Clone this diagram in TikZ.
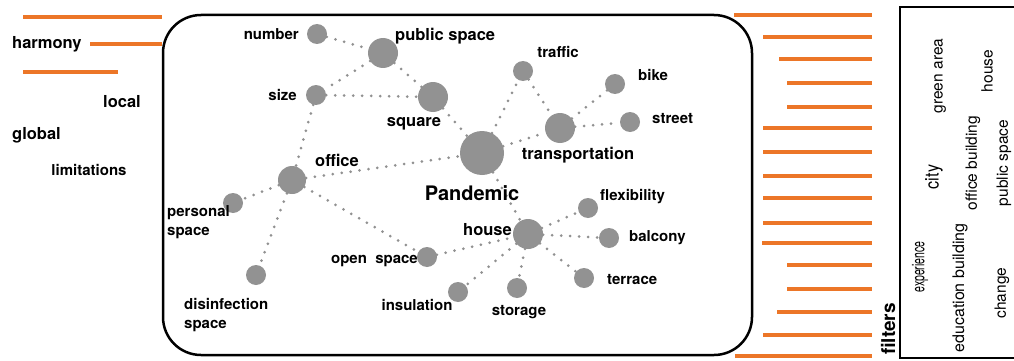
\documentclass[tikz,border=0pt]{standalone}
\usepackage{fontspec}
\setmainfont{TeX Gyre Heros}
\usepackage{graphicx}
\begin{document}
\definecolor{barorange}{RGB}{236,118,40}
\definecolor{nodegray}{RGB}{146,146,146}
\definecolor{dotgray}{RGB}{145,145,145}
\begin{tikzpicture}[x=1pt,y=-1pt,
  bar/.style={draw=barorange,line width=4.2pt},
  hub/.style={circle,fill=nodegray,inner sep=0pt,minimum size=#1},
  hub/.default=20pt,
  link/.style={draw=dotgray,line width=3pt,line cap=round,dash pattern=on 0pt off 9pt},
  lab/.style={font=\fontsize{15}{19}\selectfont\bfseries,inner sep=0pt},
  labm/.style={font=\fontsize{16.5}{19}\selectfont\bfseries,inner sep=0pt},
  labl/.style={font=\fontsize{20}{24}\selectfont\bfseries,inner sep=0pt},
  vword/.style={rotate=90,font=\fontsize{15.5}{18}\selectfont,inner sep=0pt}]
\useasboundingbox (0,0) rectangle (1014,361);

% left column: bars and words
\draw[bar] (23,17) -- (162,17);
\draw[bar] (90,44) -- (162,44);
\draw[bar] (23,72) -- (118,72);
\node[labm,anchor=west] (w-harmony) at (12,44) {harmony};
\node[labm] (w-local) at (122,102) {local};
\node[labm,anchor=west] (w-global) at (12,135) {global};
\node[lab] (w-limit) at (89,170) {limitations};

% frame around the network
\draw[line width=2.5pt,rounded corners=38pt] (163,15) rectangle (752,355);

% network nodes
\node[hub] (number) at (317,34) {};
\node[hub=30pt] (public) at (383,53) {};
\node[hub] (size) at (316,95) {};
\node[hub=30pt] (square) at (433,97) {};
\node[hub=44pt] (pandemic) at (482,153) {};
\node[hub=28pt] (office) at (292,180) {};
\node[hub] (personal) at (233,203) {};
\node[hub] (disinf) at (256,275) {};
\node[hub] (openspace) at (427,257) {};
\node[hub] (insulation) at (458,292) {};
\node[hub=30pt] (house) at (528,234) {};
\node[hub] (flex) at (588,208) {};
\node[hub] (balcony) at (609,238) {};
\node[hub] (terrace) at (584,278) {};
\node[hub] (storage) at (517,288) {};
\node[hub] (traffic) at (523,71) {};
\node[hub] (bike) at (615,84) {};
\node[hub] (street) at (630,122) {};
\node[hub=30pt] (transport) at (560,128) {};

% dotted links
\foreach \a/\b in {number/public, public/size, public/square, size/square,
  square/pandemic, size/office, office/pandemic, office/personal,
  office/disinf, office/openspace, openspace/house, pandemic/house,
  pandemic/transport, pandemic/traffic, traffic/transport,
  transport/bike, transport/street, house/flex, house/balcony,
  house/terrace, house/storage, house/insulation}
  \path[link] (\a) -- (\b);

% node labels
\node[lab,anchor=east] (l-number) at (299,34) {number};
\node[labm,anchor=west] (l-public) at (395,36) {public space};
\node[lab,anchor=east] (l-size) at (297,95) {size};
\node[labm] (l-square) at (414,124) {square};
\node[labl] (l-pandemic) at (472,193) {Pandemic};
\node[labm] (l-office) at (337,160) {office};
\node[lab,anchor=west,align=left] (l-personal) at (167,222) {personal\\space};
\node[lab,anchor=west,align=left] (l-disinf) at (184,315) {disinfection\\space};
\node[lab,anchor=east] (l-open) at (418,261) {open\ \ space};
\node[lab] (l-insulation) at (417,305) {insulation};
\node[labm,anchor=east] (l-house) at (512,230) {house};
\node[lab,anchor=west] (l-flex) at (600,197) {flexibility};
\node[lab,anchor=west] (l-balcony) at (629,238) {balcony};
\node[lab,anchor=west] (l-terrace) at (607,280) {terrace};
\node[lab] (l-storage) at (519,312) {storage};
\node[lab] (l-traffic) at (558,52) {traffic};
\node[lab,anchor=west] (l-bike) at (638,75) {bike};
\node[lab,anchor=west] (l-street) at (652,119) {street};
\node[labm] (l-transport) at (578,155) {transportation};

% filter bars
\foreach \xs/\yy in {734/15, 763/37, 779/59, 787/83, 787/107, 763/128,
  763/152, 763/176, 763/198, 763/223, 762/243, 787/265, 787/289,
  777/312, 763/335, 735/356}
  \draw[bar] (\xs,\yy) -- (872,\yy);
\node[vword,font=\fontsize{19}{22}\selectfont\bfseries] (filters) at (888,329) {filters};

% word box
\draw[line width=1.6pt] (1020,7) -- (900,7) -- (900,358) -- (1020,358);
\node[vword] (v-green) at (940,76) {green area};
\node[vword] (v-house) at (987,71) {house};
\node[vword,font=\fontsize{19}{22}\selectfont] (v-city) at (934,177) {\scalebox{0.85}[1]{city}};
\node[vword] (v-office) at (973,163) {office building};
\node[vword] (v-public) at (1004,163) {public space};
\node[vword,font=\fontsize{17.5}{20}\selectfont] (v-exp) at (920,267) {\scalebox{0.6}[1]{experience}};
\node[vword,font=\fontsize{16}{19}\selectfont] (v-edu) at (960,288) {education building};
\node[vword] (v-change) at (1002,293) {change};
\end{tikzpicture}
\end{document}
